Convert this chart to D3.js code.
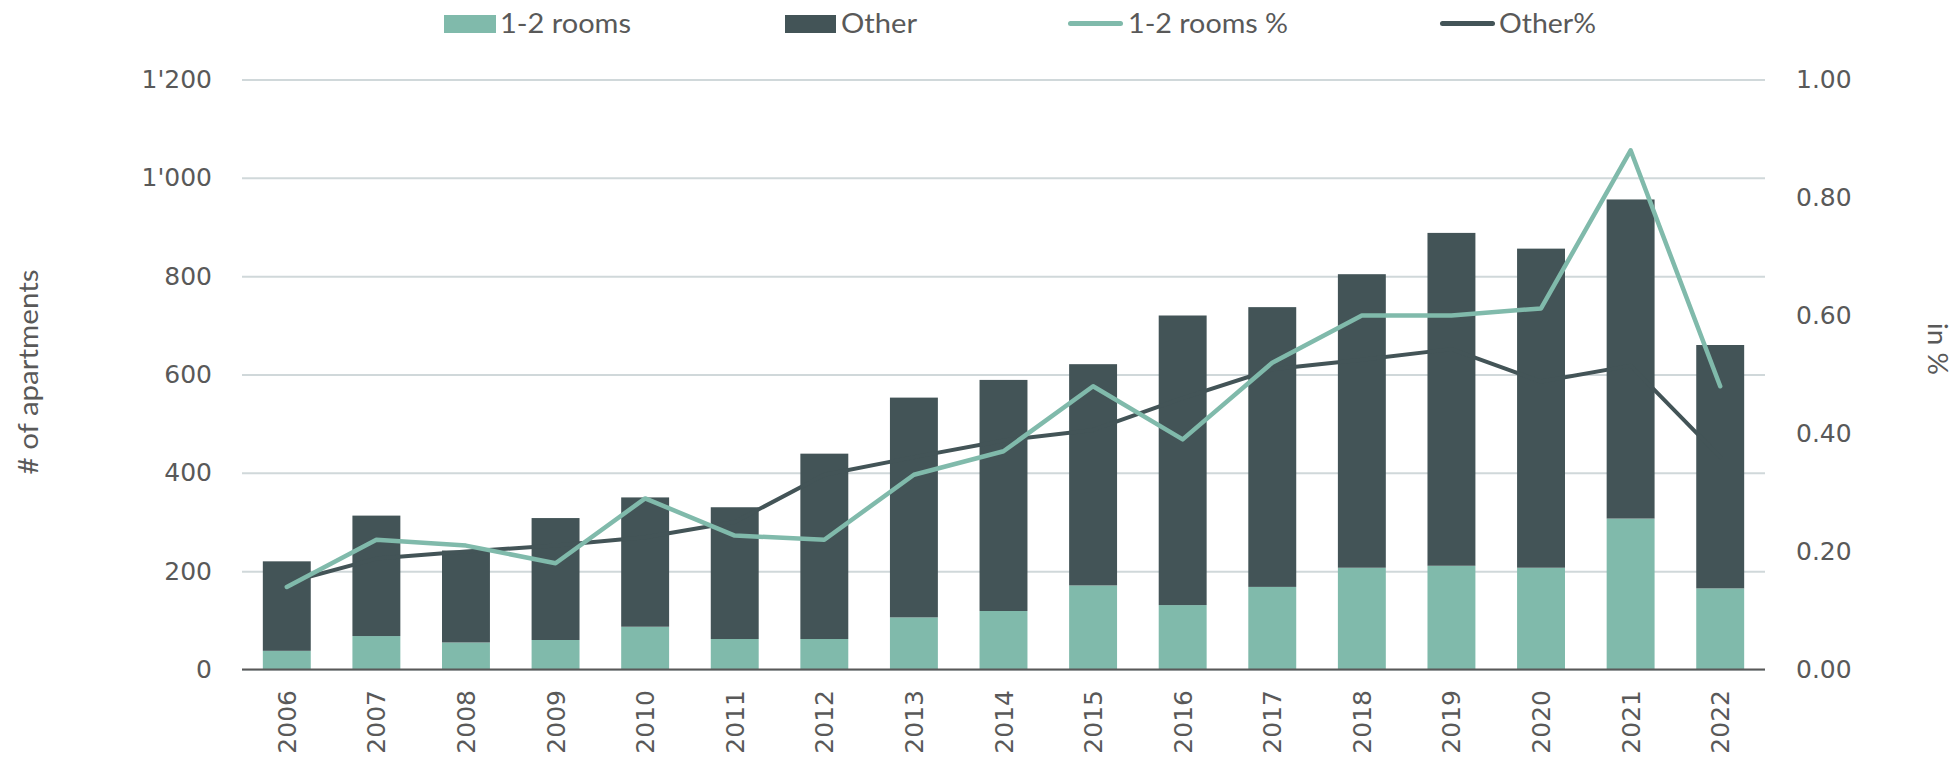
<!DOCTYPE html>
<html>
<head>
<meta charset="utf-8">
<script src="https://cdn.jsdelivr.net/npm/d3@7"></script>
<style>
  body { margin: 0; background: #fff; }
  text { fill: #595959; }
</style>
</head>
<body>
<div id="viz"></div>
<script>
var years = ["2006","2007","2008","2009","2010","2011","2012","2013","2014","2015","2016","2017","2018","2019","2020","2021","2022"];
var rooms12 = [38, 68, 55, 60, 87, 62, 62, 106, 119, 171, 131, 168, 207, 211, 207, 307, 165];
var other = [182, 245, 187, 248, 263, 268, 377, 447, 470, 450, 589, 569, 597, 677, 649, 649, 495];
var rooms12Pct = [0.14, 0.22, 0.21, 0.18, 0.29, 0.227, 0.22, 0.33, 0.37, 0.48, 0.39, 0.52, 0.60, 0.60, 0.612, 0.88, 0.48];
var otherPct = [0.147, 0.188, 0.2, 0.21, 0.224, 0.25, 0.33, 0.36, 0.388, 0.406, 0.46, 0.509, 0.525, 0.543, 0.488, 0.515, 0.36];
var leftTicks = [0, 200, 400, 600, 800, 1000, 1200];
var rightTicks = [0, 0.2, 0.4, 0.6, 0.8, 1.0];

var w = 1960, h = 757;
var green = "#80baab", dark = "#435457";
var tickFont = "'DejaVu Sans', Verdana, sans-serif";
var labelFont = "Lato, 'Open Sans', sans-serif";

var svg = d3.select("#viz").append("svg")
  .attr("width", w)
  .attr("height", h);

var x = d3.scaleBand().domain(years).range([242, 1765])
  .paddingInner(0.465).paddingOuter(0.2325);
var y = d3.scaleLinear().domain([0, 1200]).range([669.5, 79.5]);
var y2 = d3.scaleLinear().domain([0, 1]).range([669.5, 79.5]);

// gridlines
svg.append("g")
  .attr("transform", "translate(242,0)")
  .call(d3.axisLeft(y).tickValues(leftTicks).tickSize(-(1765 - 242)).tickFormat(""))
  .call(function(g) {
    g.select(".domain").remove();
    g.selectAll("line").attr("stroke", "#d0d8da").attr("stroke-width", 2);
  });

// left tick labels
svg.append("g")
  .attr("transform", "translate(212,0)")
  .call(d3.axisLeft(y).tickValues(leftTicks).tickSize(0).tickPadding(0)
    .tickFormat(function(d) { return d3.format(",")(d).replace(",", "'"); }))
  .call(function(g) {
    g.select(".domain").remove();
    g.selectAll("text").attr("font-family", tickFont).attr("font-size", 25).attr("fill", "#595959");
  });

// right tick labels
svg.append("g")
  .attr("transform", "translate(1796,0)")
  .call(d3.axisRight(y2).tickValues(rightTicks).tickSize(0).tickPadding(0).tickFormat(d3.format(".2f")))
  .call(function(g) {
    g.select(".domain").remove();
    g.selectAll("text").attr("font-family", tickFont).attr("font-size", 25).attr("fill", "#595959");
  });

// stacked bars
var rows = years.map(function(yr, i) { return {year: yr, rooms12: rooms12[i], other: other[i]}; });
var stack = d3.stack().keys(["rooms12", "other"])(rows);
var colors = {rooms12: green, other: dark};

svg.selectAll("g.series")
  .data(stack)
  .enter().append("g")
  .attr("class", "series")
  .attr("fill", function(d) { return colors[d.key]; })
  .selectAll("rect")
  .data(function(d) { return d; })
  .enter().append("rect")
  .attr("x", function(d) { return x(d.data.year); })
  .attr("width", x.bandwidth())
  .attr("y", function(d) { return y(d[1]); })
  .attr("height", function(d) { return y(d[0]) - y(d[1]); });

// x axis line
svg.append("line")
  .attr("x1", 242).attr("x2", 1765)
  .attr("y1", y(0)).attr("y2", y(0))
  .attr("stroke", "#595959").attr("stroke-width", 2);

// year labels
svg.append("g")
  .selectAll("text")
  .data(years)
  .enter().append("text")
  .attr("transform", function(d) { return "translate(" + (x(d) + x.bandwidth() / 2) + ",690) rotate(-90)"; })
  .attr("text-anchor", "end")
  .attr("dy", "0.36em")
  .attr("font-family", tickFont)
  .attr("font-size", 25)
  .text(function(d) { return d; });

// lines
var line = d3.line()
  .x(function(d, i) { return x(years[i]) + x.bandwidth() / 2; })
  .y(function(d) { return y2(d); });

svg.append("path")
  .datum(otherPct)
  .attr("d", line)
  .attr("fill", "none")
  .attr("stroke", dark)
  .attr("stroke-width", 4)
  .attr("stroke-linejoin", "round")
  .attr("stroke-linecap", "round");

svg.append("path")
  .datum(rooms12Pct)
  .attr("d", line)
  .attr("fill", "none")
  .attr("stroke", green)
  .attr("stroke-width", 4.5)
  .attr("stroke-linejoin", "round")
  .attr("stroke-linecap", "round");

// axis titles
svg.append("text")
  .attr("transform", "translate(29,372) rotate(-90)")
  .attr("text-anchor", "middle")
  .attr("dy", "0.35em")
  .attr("font-family", labelFont)
  .attr("font-size", 27)
  .attr("textLength", 205)
  .attr("lengthAdjust", "spacingAndGlyphs")
  .text("# of apartments");

svg.append("text")
  .attr("transform", "translate(1937,349) rotate(90)")
  .attr("text-anchor", "middle")
  .attr("dy", "0.35em")
  .attr("font-family", labelFont)
  .attr("font-size", 27)
  .attr("textLength", 52)
  .attr("lengthAdjust", "spacingAndGlyphs")
  .text("in %");

// legend
var legendItems = [
  {label: "1-2 rooms", type: "rect", color: green, x0: 444, x1: 496, tx: 500, tw: 131},
  {label: "Other", type: "rect", color: dark, x0: 785, x1: 836, tx: 841, tw: 76},
  {label: "1-2 rooms %", type: "line", color: green, x0: 1068, x1: 1123, tx: 1128, tw: 160},
  {label: "Other%", type: "line", color: dark, x0: 1440, x1: 1495, tx: 1499, tw: 97}
];

var legend = svg.append("g");
legendItems.forEach(function(it) {
  if (it.type == "rect") {
    legend.append("rect")
      .attr("x", it.x0).attr("y", 15)
      .attr("width", it.x1 - it.x0).attr("height", 18)
      .attr("fill", it.color);
  } else {
    legend.append("line")
      .attr("x1", it.x0 + 2.5).attr("x2", it.x1 - 2.5)
      .attr("y1", 23.5).attr("y2", 23.5)
      .attr("stroke", it.color).attr("stroke-width", 5)
      .attr("stroke-linecap", "round");
  }
  legend.append("text")
    .attr("x", it.tx).attr("y", 33)
    .attr("font-family", labelFont)
    .attr("font-size", 27)
    .attr("textLength", it.tw)
    .attr("lengthAdjust", "spacingAndGlyphs")
    .text(it.label);
});
</script>
</body>
</html>
